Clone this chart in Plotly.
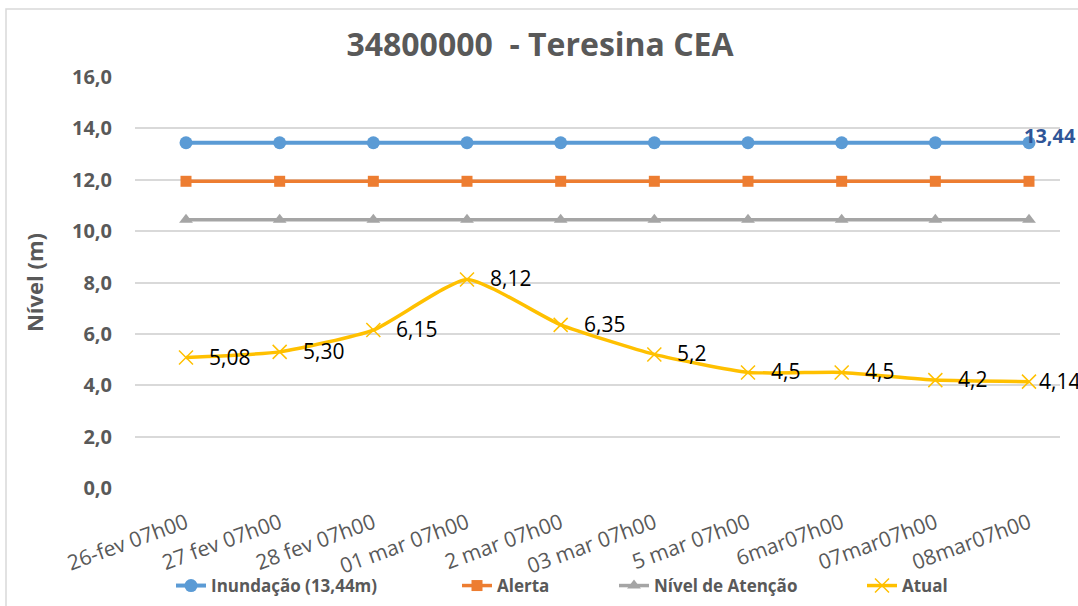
import plotly.graph_objects as go

categories = ["26-fev 07h00", "27 fev 07h00", "28 fev 07h00", "01 mar 07h00", "2 mar 07h00",
              "03 mar 07h00", "5 mar 07h00", "6mar07h00", "07mar07h00", "08mar07h00"]
inundacao = [13.44] * 10
alerta = [11.94] * 10
atencao = [10.44] * 10
atual = [5.08, 5.30, 6.15, 8.12, 6.35, 5.2, 4.5, 4.5, 4.2, 4.14]
atual_labels = ["5,08", "5,30", "6,15", "8,12", "6,35", "5,2", "4,5", "4,5", "4,2", "4,14"]
inund_label = "13,44"
y_ticks = [0, 2, 4, 6, 8, 10, 12, 14, 16]

W, H = 1078, 606
L, R, T, B = 135, 18, 77, 118
pw, ph = W - L - R, H - T - B
step = 93.67  # px per category


def px_x(px):
    return (px - L) / pw


def px_y(py):
    return ((H - B) - py) / ph


fig = go.Figure()
fig.add_trace(go.Scatter(x=categories, y=inundacao, name="Inundação (13,44m)", mode="lines+markers",
                         line=dict(color="#5B9BD5", width=4),
                         marker=dict(symbol="circle", size=13, color="#5B9BD5"),
                         cliponaxis=False, legend="legend"))
fig.add_trace(go.Scatter(x=categories, y=alerta, name="Alerta", mode="lines+markers",
                         line=dict(color="#ED7D31", width=3.5),
                         marker=dict(symbol="square", size=11, color="#ED7D31"), cliponaxis=False,
                         legend="legend2"))
fig.add_trace(go.Scatter(x=categories, y=atencao, name="Nível de Atenção", mode="lines+markers",
                         line=dict(color="#A5A5A5", width=3.5),
                         marker=dict(symbol="triangle-up", size=12, color="#A5A5A5"), cliponaxis=False,
                         legend="legend3"))
fig.add_trace(go.Scatter(x=categories, y=atual, name="Atual", mode="lines+markers",
                         line=dict(color="#FFC000", width=3.5, shape="spline", smoothing=0.5),
                         marker=dict(symbol="x-thin-open", size=14, line=dict(color="#FFC000", width=1.5),
                                     color="#FFC000"),
                         cliponaxis=False, legend="legend4"))

annotations = []
for i, (c, v, t) in enumerate(zip(categories, atual, atual_labels)):
    annotations.append(dict(x=c, y=v, xref="x", yref="y", text=t, showarrow=False,
                            xanchor="left", yanchor="middle",
                            xshift=(8 if i == len(categories) - 1 else 21), yshift=1,
                            font=dict(family="Open Sans", size=21, color="#000000")))
annotations.append(dict(x=categories[-1], y=inundacao[-1], xref="x", yref="y", text=inund_label,
                        showarrow=False, xanchor="left", yanchor="middle", xshift=-7, yshift=7,
                        font=dict(family="Open Sans", size=20, color="#2F5597", weight="bold")))

leg_common = dict(orientation="h", xanchor="left", yanchor="middle", y=px_y(586),
                  font=dict(size=17, color="#595959", weight="bold"), bgcolor="rgba(0,0,0,0)")
text_starts = [212, 498, 655, 903]

fig.update_layout(
    width=W, height=H,
    margin=dict(l=L, r=R, t=T, b=B, autoexpand=False),
    paper_bgcolor="white", plot_bgcolor="white",
    separators=",.",
    font=dict(family="Open Sans", color="#595959"),
    title=dict(text="34800000  - Teresina CEA", x=540 / W, xanchor="center",
               y=1 - 45 / H, yanchor="middle",
               font=dict(family="Open Sans", size=32, color="#595959", weight="bold")),
    xaxis=dict(type="category", tickangle=-20, tickfont=dict(size=21, color="#595959"),
               showgrid=False, showline=False, ticks="", zeroline=False, ticklabelstandoff=18,
               range=[-(186 - L) / step, 9 + (W - R - 1029) / step], automargin=False),
    yaxis=dict(range=[0, 16], tickvals=y_ticks, tickformat=".1f",
               tickfont=dict(size=20, color="#595959", weight="bold"),
               showgrid=True, gridcolor="#D9D9D9", gridwidth=1.5, zeroline=False,
               showline=False, ticks="", ticklabelstandoff=22, automargin=False,
               title=dict(text="Nível (m)", font=dict(size=22, color="#595959", weight="bold"),
                          standoff=22)),
    legend=dict(x=px_x(text_starts[0] - 41), **leg_common),
    legend2=dict(x=px_x(text_starts[1] - 41), **leg_common),
    legend3=dict(x=px_x(text_starts[2] - 41), **leg_common),
    legend4=dict(x=px_x(text_starts[3] - 41), **leg_common),
    showlegend=True,
    annotations=annotations,
    shapes=[dict(type="rect", xref="paper", yref="paper",
                 x0=px_x(6), x1=px_x(W + 5),
                 y0=px_y(H + 5), y1=px_y(9),
                 line=dict(color="#D9D9D9", width=1.5), layer="below")],
)

fig.write_html("out.html", config={"displayModeBar": False},
               post_script="document.body.style.margin='0';document.body.style.overflow='hidden';")
